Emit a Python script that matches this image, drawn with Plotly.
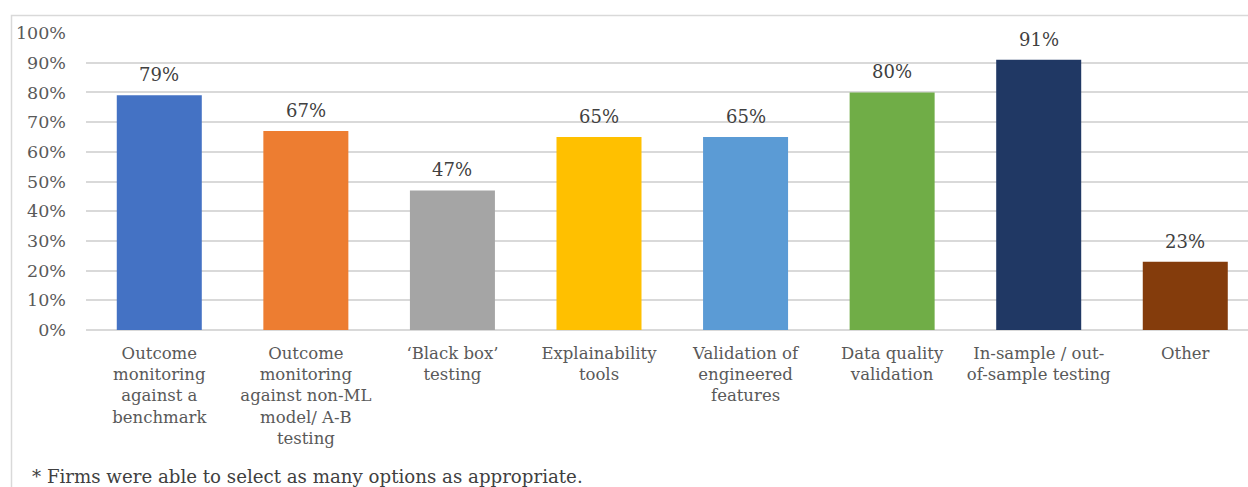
import plotly.graph_objects as go

categories = [
    "Outcome<br>monitoring<br>against a<br>benchmark",
    "Outcome<br>monitoring<br>against non-ML<br>model/ A-B<br>testing",
    "‘Black box’<br>testing",
    "Explainability<br>tools",
    "Validation of<br>engineered<br>features",
    "Data quality<br>validation",
    "In-sample / out-<br>of-sample testing",
    "Other",
]
values = [79, 67, 47, 65, 65, 80, 91, 23]
colors = ["#4472C4", "#ED7D31", "#A5A5A5", "#FFC000", "#5B9BD5", "#70AD47", "#203864", "#843C0C"]
y_ticks = list(range(0, 101, 10))
y_tick_labels = [f"{t}%" for t in y_ticks]
footnote = "* Firms were able to select as many options as appropriate."

FONT = "DejaVu Serif"
W, H = 1248, 487
L, T, B = 86, 33, 157
plot_w = W - L
plot_h = H - T - B

x_idx = list(range(len(categories)))

fig = go.Figure()
fig.add_trace(go.Bar(
    x=x_idx,
    y=values,
    marker=dict(color=colors, line=dict(width=0)),
    width=0.58,
    hoverinfo="skip",
))

# value labels above each bar
for i, v in zip(x_idx, values):
    fig.add_annotation(
        x=i, y=v, text=f"{v}%", showarrow=False,
        yanchor="bottom", yshift=8,
        font=dict(family=FONT, size=18, color="#404040"),
    )

# footnote below the chart
fig.add_annotation(
    xref="paper", yref="paper",
    x=(30 - L) / plot_w, y=(H - B - 476) / plot_h,
    xanchor="left", yanchor="middle",
    text=footnote, showarrow=False,
    font=dict(family=FONT, size=18.2, color="#404040"),
)

# light frame around the chart area
fig.add_shape(
    type="rect", xref="paper", yref="paper",
    x0=(11.5 - L) / plot_w, x1=1.2,
    y0=-1.0, y1=(H - B - 15.5) / plot_h,
    line=dict(color="#D9D9D9", width=1.5),
    fillcolor="rgba(0,0,0,0)", layer="below",
)

fig.update_layout(
    width=W, height=H,
    margin=dict(l=L, r=0, t=T, b=B, pad=0),
    plot_bgcolor="white", paper_bgcolor="white",
    showlegend=False,
    xaxis=dict(
        tickmode="array", tickvals=x_idx, ticktext=categories,
        range=[-0.5, -0.5 + plot_w / 146.57],
        showgrid=False, zeroline=False, showline=False, ticks="",
        ticklabelstandoff=11,
        tickfont=dict(family=FONT, size=16.5, color="#595959"),
        fixedrange=True,
    ),
    yaxis=dict(
        range=[0, 100],
        tickmode="array", tickvals=y_ticks, ticktext=y_tick_labels,
        showgrid=True, gridcolor="#D9D9D9", gridwidth=1.5,
        zeroline=True, zerolinecolor="#D9D9D9", zerolinewidth=1.5,
        showline=False, ticks="", ticklabelstandoff=19,
        tickfont=dict(family=FONT, size=17.5, color="#595959"),
        fixedrange=True,
    ),
)

fig.write_html("out.html")
